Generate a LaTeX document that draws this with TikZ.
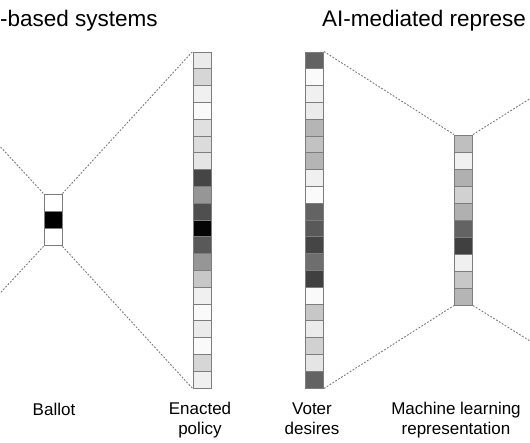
\documentclass[tikz,border=0pt]{standalone}
\usepackage{fontspec}
\setmainfont{Liberation Sans}
\usetikzlibrary{positioning,calc}
\definecolor{ln}{RGB}{125,125,125}
\definecolor{dl}{RGB}{120,120,120}
\tikzset{cell/.style={draw=ln,line width=.9pt,minimum width=18pt,minimum height=16.8pt,inner sep=0pt},
 mcell/.style={cell,minimum height=17pt},
 bcell/.style={cell,minimum height=17.3pt},
 link/.style={draw=dl,line width=.9pt,dash pattern=on 1.8pt off 1.6pt},
 ttl/.style={anchor=base west,inner sep=0pt,font=\fontsize{22.5}{27}\selectfont},
 lbl/.style={anchor=base,inner sep=0pt,align=center,font=\fontsize{17}{19.5}\selectfont}}

\begin{document}
\begin{tikzpicture}[x=1pt,y=-1pt]
\useasboundingbox (0,0) rectangle (530,442);
\clip (0,0) rectangle (530,442);
\node[ttl] (t1) at (0,26) {-based systems};
\node[ttl] (t2) at (322,26) {AI-mediated represe};
\foreach \g [count=\i] in {0,100,0}
 {\node[bcell,fill=black!\g] (bal-\i) at (53,{194+8.65+(\i-1)*17.3}) {};}
\foreach \g [count=\i] in {8,16,6,2,12,14,10,73,41,69,98,65,41,22,6,2,8,2,16,6}
 {\node[cell,fill=black!\g] (pol-\i) at (202,{52+8.4+(\i-1)*16.8}) {};}
\foreach \g [count=\i] in {61,2,6,8,29,24,29,6,2,61,65,73,57,75,2,22,8,18,10,61}
 {\node[cell,fill=black!\g] (vot-\i) at (314.5,{52+8.4+(\i-1)*16.8}) {};}
\foreach \g [count=\i] in {25,6,31,18,31,61,75,6,22,29}
 {\node[mcell,fill=black!\g] (ml-\i) at (463.5,{135+8.5+(\i-1)*17}) {};}
\coordinate (lt) at (-87,52);
\coordinate (lb) at (-87,387);
\coordinate (rt) at (604,52);
\coordinate (rb) at (604,387);
\draw[link] (lt)--(bal-1.north west);
\draw[link] (lb)--(bal-3.south west);
\draw[link] (bal-1.north east)--(pol-1.north west);
\draw[link] (bal-3.south east)--(pol-20.south west);
\draw[link] (vot-1.north east)--(ml-1.north west);
\draw[link] (vot-20.south east)--(ml-10.south west);
\draw[link] (ml-1.north east)--(rt);
\draw[link] (ml-10.south east)--(rb);
\node[lbl] (l1) at (54,415) {Ballot};
\node[lbl] (l2) at (200,434) {Enacted\\policy};
\node[lbl] (l3) at (312,434) {Voter\\desires};
\node[lbl] (l4) at (456,434) {Machine learning\\representation};
\end{tikzpicture}
\end{document}
